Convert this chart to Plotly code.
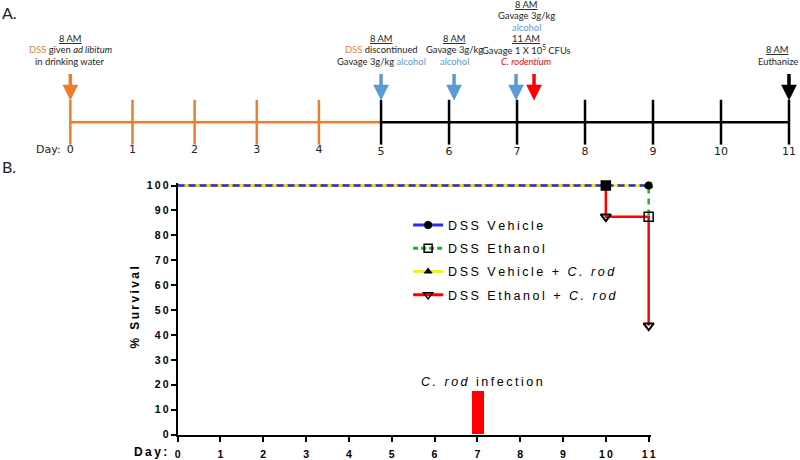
import re
import plotly.graph_objects as go

# ---------------- data ----------------
# Panel A: experimental timeline
dss_days = [0, 1, 2, 3, 4]              # DSS in drinking water (orange phase ticks)
post_days = [5, 6, 7, 8, 9, 10, 11]     # after DSS discontinued (black phase ticks)
dss_labels = ["0", "1", "2", "3", "4"]
post_labels = ["5", "6", "7", "8", "9", "10", "11"]
dss_start_day = 0
dss_stop_day = 5
alcohol_days = [5, 6, 7]
crod_day = 7
euthanize_day = 11

# Panel B: survival curves (Kaplan-Meier steps)
vehicle_days = [0, 11]
vehicle_pct = [100, 100]
ethanol_days = [0, 11]
ethanol_pct = [100, 87.5]
vehicle_crod_days = [0, 11]
vehicle_crod_pct = [100, 100]
ethanol_crod_days = [0, 10, 11]
ethanol_crod_pct = [100, 87.5, 43.75]

vehicle_mark_days = [11]
vehicle_mark_pct = [100]
ethanol_mark_days = [10, 11]
ethanol_mark_pct = [100, 87.5]
vehicle_crod_mark_days = [11]
vehicle_crod_mark_pct = [100]
ethanol_crod_mark_days = [10, 11]
ethanol_crod_mark_pct = [87.5, 43.75]

infection_day = [7]
infection_bar = [17.5]

x_ticks = list(range(12))
x_ticklabels = [str(v) for v in x_ticks]
y_ticks = list(range(0, 101, 10))
y_ticklabels = [str(v) for v in y_ticks]

series_names = ["DSS Vehicle", "DSS Ethanol",
                "DSS Vehicle + <i>C. rod</i>", "DSS Ethanol + <i>C. rod</i>"]

# ---------------- helpers ----------------
W, H = 800, 460
SX, CX = 0.989, 2.8   # empirical correction of the rendered placement
SY, CY = 0.980, 3.7
def X(px): return (px - CX) / SX / W
def Y(py): return 1 - (py - CY) / SY / H
def clamp(v): return max(0.0, min(1.0, v))

def spaced(s, sp="\u2009"):
    parts = re.findall(r"<[^>]+>|.", s)
    out, prev = "", False
    for p in parts:
        if len(p) > 1 and p.startswith("<"):
            out += p
            continue
        if prev:
            out += sp
        out += p
        prev = True
    return out

ORANGE = "#ED7D31"
BLUE_A = "#5B9BD5"
RED = "#FF0000"
ARIAL = "Arial, Liberation Sans, sans-serif"
CAL = "Lato, Open Sans, sans-serif"

fig = go.Figure()

# ---------------- Panel A: timeline ----------------
tl = dict(xaxis="x2", yaxis="y2", showlegend=False, hoverinfo="skip", cliponaxis=False)
tl3 = dict(tl, xaxis="x3")
fig.add_trace(go.Scatter(x=[dss_start_day, dss_stop_day], y=[0, 0], mode="lines",
                         line=dict(color=ORANGE, width=2.5), **tl))
fig.add_trace(go.Scatter(x=[post_days[0], post_days[-1]], y=[0, 0], mode="lines",
                         line=dict(color="black", width=2.5), **tl3))
fig.add_trace(go.Scatter(x=dss_days, y=[0] * len(dss_days), mode="markers",
                         marker=dict(symbol="line-ns", size=32, line=dict(color=ORANGE, width=2.5)), **tl))
fig.add_trace(go.Scatter(x=post_days, y=[0] * len(post_days), mode="markers",
                         marker=dict(symbol="line-ns", size=32, line=dict(color="black", width=2.5)), **tl3))
fig.add_trace(go.Scatter(x=dss_days, y=[-28] * len(dss_days), mode="text", text=dss_labels,
                         textfont=dict(family="DejaVu Sans", size=11, color="#222"), **tl))
fig.add_trace(go.Scatter(x=post_days, y=[-30] * len(post_days), mode="text", text=post_labels,
                         textfont=dict(family="DejaVu Sans", size=11, color="#222"), **tl3))

# ---------------- Panel B: survival ----------------
fig.add_trace(go.Bar(x=infection_day, y=infection_bar, width=0.28, marker=dict(color=RED, line=dict(width=0)),
                     showlegend=False, hoverinfo="skip"))
fig.add_trace(go.Scatter(x=ethanol_crod_days, y=ethanol_crod_pct, mode="lines", line_shape="hv",
                         line=dict(color=RED, width=2.5), showlegend=False, cliponaxis=False))
fig.add_trace(go.Scatter(x=ethanol_days, y=ethanol_pct, mode="lines", line_shape="hv",
                         line=dict(color="#22B322", width=2.5, dash="6px,5px"), showlegend=False, cliponaxis=False))
fig.add_trace(go.Scatter(x=vehicle_crod_days, y=vehicle_crod_pct, mode="lines", line_shape="hv",
                         line=dict(color="#FFF200", width=2.5), showlegend=False, cliponaxis=False))
fig.add_trace(go.Scatter(x=vehicle_days, y=vehicle_pct, mode="lines", line_shape="hv",
                         line=dict(color="#2B2BE8", width=2.5, dash="7px,4px"), showlegend=False, cliponaxis=False))
# event markers
fig.add_trace(go.Scatter(x=vehicle_crod_mark_days, y=vehicle_crod_mark_pct, mode="markers",
                         marker=dict(symbol="triangle-up", size=8, color="black"), showlegend=False, cliponaxis=False))
fig.add_trace(go.Scatter(x=vehicle_mark_days, y=vehicle_mark_pct, mode="markers",
                         marker=dict(symbol="circle", size=8, color="black"), showlegend=False, cliponaxis=False))
fig.add_trace(go.Scatter(x=ethanol_mark_days, y=ethanol_mark_pct, mode="markers",
                         marker=dict(symbol=["square", "square-open"], size=9, color="black",
                                     line=dict(width=1.5, color="black")),
                         showlegend=False, cliponaxis=False))
fig.add_trace(go.Scatter(x=ethanol_crod_mark_days, y=ethanol_crod_mark_pct, mode="markers",
                         marker=dict(symbol="triangle-down-open", size=9, color="black",
                                     line=dict(width=2, color="black")),
                         showlegend=False, cliponaxis=False))

# legend entries
legend_styles = [
    dict(line=dict(color="#2B2BE8", width=3), marker=dict(symbol="circle", size=8, color="black")),
    dict(line=dict(color="#22B322", width=3, dash="5px,3px"),
         marker=dict(symbol="square-open", size=8, color="black", line=dict(width=1.5, color="black"))),
    dict(line=dict(color="#FFF200", width=3), marker=dict(symbol="triangle-up", size=8, color="black")),
    dict(line=dict(color=RED, width=3),
         marker=dict(symbol="triangle-down-open", size=8, color="black", line=dict(width=1.5, color="black"))),
]
for i, (nm, st) in enumerate(zip(series_names, legend_styles)):
    fig.add_trace(go.Scatter(x=[None], y=[None], mode="lines+markers", name=spaced(nm),
                             legendgroup=f"g{i}", **st))

# ---------------- annotations ----------------
ann = []
txt_font = dict(family=CAL, size=9.4, color="#262626")
def orange(s): return f"<span style='color:{ORANGE}'>{s}</span>"
def blue(s): return f"<span style='color:{BLUE_A}'>{s}</span>"

blocks = [
    ("x2", dss_start_day, 0,
     ["<u>8 AM</u>", f"{orange('DSS')} given <i>ad libitum</i>", "in drinking water"]),
    ("x3", alcohol_days[0], 0,
     ["<u>8 AM</u>", f"{orange('DSS')} discontinued", f"Gavage 3g/kg {blue('alcohol')}"]),
    ("x3", alcohol_days[1], 5,
     ["<u>8 AM</u>", "Gavage 3g/kg", blue("alcohol")]),
    ("x3", alcohol_days[2], 9,
     ["<u>8 AM</u>", "Gavage 3g/kg", blue("alcohol"), "<u>11 AM</u>",
      "Gavage 1 X 10<sup>5</sup> CFUs", f"<span style='color:{RED}'><i>C. rodentium</i></span>"]),
    ("x3", euthanize_day, -11, ["<u>8 AM</u>", "Euthanize"]),
]
LINE_GAP = 11.4
for xr, xv, xs, lines in blocks:
    n = len(lines)
    for i, t in enumerate(lines):
        ypx = 61 - LINE_GAP * (n - 1 - i)
        ann.append(dict(xref=xr, yref="paper", x=xv, y=Y(ypx), text=t, showarrow=False,
                        xanchor="center", yanchor="middle", align="center", font=txt_font, xshift=xs))

arrows = [
    ("x2", dss_start_day, ORANGE, 0),
    ("x3", alcohol_days[0], BLUE_A, 0),
    ("x3", alcohol_days[1], BLUE_A, 5),
    ("x3", alcohol_days[2], BLUE_A, -1),
    ("x3", crod_day, RED, 17),
    ("x3", euthanize_day, "black", 0),
]
for xr, xv, col, xs in arrows:
    ann.append(dict(xref=xr, yref="y2", x=xv, y=22, ax=0, ay=-28, text="", showarrow=True,
                    arrowhead=2, arrowsize=0.9, arrowwidth=3.5, arrowcolor=col, xshift=xs))

ann.append(dict(xref="paper", yref="paper", x=X(63), y=Y(150), text="Day:", showarrow=False,
                xanchor="right", yanchor="middle", font=dict(family="DejaVu Sans", size=11, color="#222")))
ann.append(dict(xref="paper", yref="paper", x=X(0), y=Y(12), text="A.", showarrow=False,
                xanchor="left", yanchor="middle", font=dict(family=CAL, size=16, color="#222")))
ann.append(dict(xref="paper", yref="paper", x=X(0), y=Y(167), text="B.", showarrow=False,
                xanchor="left", yanchor="middle", font=dict(family=CAL, size=16, color="#222")))

ann.append(dict(xref="paper", yref="paper", x=X(135), y=Y(309), text=spaced("% Survival"),
                textangle=-90, showarrow=False, xanchor="center", yanchor="middle",
                font=dict(family=ARIAL, size=12, color="black", weight="bold")))
ann.append(dict(xref="paper", yref="paper", x=X(168), y=Y(453), text=spaced("Day:"),
                showarrow=False, xanchor="right", yanchor="middle",
                font=dict(family=ARIAL, size=12, color="black", weight="bold")))
ann.append(dict(xref="x", yref="y", x=infection_day[0], y=infection_bar[0], yshift=0, xshift=5,
                text=spaced("<i>C. rod</i> infection"), showarrow=False, xanchor="center", yanchor="bottom",
                font=dict(family=ARIAL, size=12.5, color="black")))

axis_common = dict(showline=True, linewidth=2, linecolor="black", ticks="outside", ticklen=5,
                   tickwidth=2, tickcolor="black", showgrid=False, zeroline=False,
                   tickfont=dict(family=ARIAL, size=10.5, color="black", weight="bold"))

PX_PER_DAY = (647 - 177) / 11
PX_PER_PCT = (436 - 186) / 100
X_MAX = 11.06
Y_MAX = 101

fig.update_layout(
    width=W, height=H, margin=dict(l=0, r=0, t=0, b=0),
    paper_bgcolor="white", plot_bgcolor="rgba(0,0,0,0)",
    xaxis=dict(domain=[clamp(X(177)), clamp(X(177 + PX_PER_DAY * X_MAX))], range=[0, X_MAX], anchor="y",
               tickvals=x_ticks, ticktext=[spaced(t) for t in x_ticklabels], ticklabelstandoff=4,
               **axis_common),
    yaxis=dict(domain=[clamp(Y(436)), clamp(Y(436 - PX_PER_PCT * Y_MAX))], range=[0, Y_MAX], anchor="x",
               tickvals=y_ticks, ticktext=[spaced(t) for t in y_ticklabels], **axis_common),
    xaxis2=dict(domain=[clamp(X(70)), clamp(X(380))], range=[0, 5], anchor="y2", visible=False),
    xaxis3=dict(domain=[clamp(X(380)), clamp(X(787))], range=[5, 11], anchor="y2", visible=False),
    yaxis2=dict(domain=[clamp(Y(170)), clamp(Y(122 - 122 * SY))], range=[-48, 122 * SY + 0.0],
                anchor="x2", visible=False),
    legend=dict(x=X(407), y=Y(211), xanchor="left", yanchor="top", bgcolor="rgba(0,0,0,0)",
                font=dict(family=ARIAL, size=12.5, color="black"), itemwidth=30,
                tracegroupgap=4, traceorder="grouped"),
    annotations=ann,
    bargap=0,
)

fig.write_html("out.html", config={"displayModeBar": False},
               post_script="document.body.style.margin='0';document.body.style.overflow='hidden';")
